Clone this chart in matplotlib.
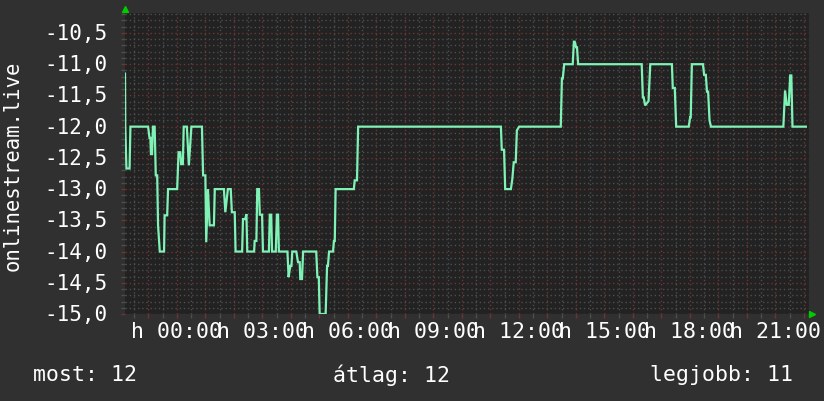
import matplotlib
matplotlib.use("Agg")
import matplotlib.pyplot as plt
from matplotlib.ticker import MultipleLocator, FixedLocator
from matplotlib.transforms import ScaledTranslation

# Data (hours relative to midnight, value)
hours = [
    -1.82, -1.81, -1.77, -1.66, -1.63, -1.01, -0.96, -0.93, -0.91, -0.87,
    -0.84, -0.78, -0.74, -0.69, -0.66, -0.60, -0.45, -0.43, -0.34, -0.31,
    0.01, 0.06, 0.12, 0.15, 0.21, 0.24, 0.35, 0.42, 0.51, 0.88,
    0.92, 1.00, 1.03, 1.09, 1.15, 1.30, 1.33, 1.65, 1.70, 1.79,
    1.89, 1.93, 2.03, 2.06, 2.29, 2.32, 2.40, 2.44, 2.47, 2.71,
    2.73, 2.79, 2.82, 2.88, 2.91, 2.99, 3.02, 3.23, 3.26, 3.31,
    3.34, 3.47, 3.51, 3.55, 3.58, 3.88, 3.92, 3.98, 4.02, 4.05,
    4.19, 4.25, 4.31, 4.33, 4.39, 4.43, 4.89, 4.93, 4.98, 5.01,
    5.22, 5.27, 5.30, 5.34, 5.48, 5.51, 5.54, 5.57, 6.21, 6.24,
    6.32, 6.36, 11.37, 11.40, 11.48, 11.52, 11.72, 11.77, 11.82, 11.89,
    11.93, 12.01, 13.47, 13.51, 13.54, 13.59, 13.89, 13.93, 13.96, 14.01,
    14.04, 14.08, 16.31, 16.35, 16.38, 16.43, 16.55, 16.61, 17.37, 17.40,
    17.47, 17.52, 17.96, 18.01, 18.03, 18.07, 18.46, 18.50, 18.56, 18.60,
    18.64, 18.69, 18.74, 21.28, 21.34, 21.40, 21.47, 21.52, 21.56, 21.60,
    22.07,
]
values = [
    -11.15, -12.0, -12.67, -12.67, -12.0, -12.0, -12.18, -12.18, -12.44, -12.44,
    -12.0, -12.0, -12.78, -12.78, -13.58, -14.0, -14.0, -13.42, -13.42, -13.0,
    -13.0, -12.41, -12.41, -12.6, -12.6, -12.0, -12.0, -12.62, -12.0, -12.0,
    -12.78, -12.78, -13.85, -13.0, -13.58, -13.58, -13.0, -13.0, -13.37, -13.0,
    -13.0, -13.37, -13.37, -14.0, -14.0, -13.48, -13.48, -13.4, -14.0, -14.0,
    -13.83, -13.83, -13.0, -13.0, -13.41, -13.41, -14.0, -14.0, -13.41, -13.41,
    -14.0, -14.0, -13.41, -13.41, -14.0, -14.0, -14.41, -14.23, -14.23, -14.0,
    -14.0, -14.17, -14.17, -14.44, -14.44, -14.0, -14.0, -14.41, -14.41, -15.0,
    -15.0, -14.23, -14.23, -14.0, -14.0, -13.83, -13.83, -13.0, -13.0, -12.86,
    -12.86, -12.0, -12.0, -12.37, -12.37, -13.0, -13.0, -12.84, -12.57, -12.57,
    -12.06, -12.0, -12.0, -11.23, -11.23, -11.0, -11.0, -10.64, -10.64, -10.73,
    -10.73, -11.0, -11.0, -11.53, -11.53, -11.66, -11.59, -11.0, -11.0, -11.38,
    -11.38, -12.0, -12.0, -11.85, -11.85, -11.0, -11.0, -11.17, -11.17, -11.44,
    -11.44, -11.9, -12.0, -12.0, -11.42, -11.65, -11.65, -11.18, -11.18, -12.0,
    -12.0,
]

x_ticks = [0, 3, 6, 9, 12, 15, 18, 21]
x_labels = ["h 00:00", "h 03:00", "h 06:00", "h 09:00",
            "h 12:00", "h 15:00", "h 18:00", "h 21:00"]
y_ticks = [-15.0, -14.5, -14.0, -13.5, -13.0, -12.5, -12.0, -11.5, -11.0, -10.5]
y_labels = ["-15,0", "-14,5", "-14,0", "-13,5", "-13,0",
            "-12,5", "-12,0", "-11,5", "-11,0", "-10,5"]
y_title = "onlinestream.live"
footer = [("most: 12", 33), ("átlag: 12", 333), ("legjobb: 11", 650)]

# Style
bg = "#303030"
plot_bg = "#222222"
line_color = "#7ff2b6"
major_grid = "#6e3535"
minor_grid = "#4e4e4e"
mono = "DejaVu Sans Mono"

fig = plt.figure(figsize=(8.24, 4.02), dpi=100, facecolor=bg)
ax = fig.add_axes([125 / 824, 87 / 402, 684 / 824, 301 / 402])
ax.set_facecolor(plot_bg)

ax.set_xlim(-1.82, 22.18)
ax.set_ylim(-15.0, -10.18)

# grid
ax.xaxis.set_major_locator(FixedLocator(list(range(-1, 23))))
ax.xaxis.set_minor_locator(MultipleLocator(0.5))
ax.yaxis.set_major_locator(FixedLocator(y_ticks))
ax.yaxis.set_minor_locator(MultipleLocator(0.1))
ax.grid(which="minor", color=minor_grid, linestyle=(0, (1, 2)), linewidth=1)
ax.grid(which="major", color=major_grid, linestyle=(0, (1, 2)), linewidth=1)
ax.set_axisbelow(True)

for s in ax.spines.values():
    s.set_visible(False)

ax.tick_params(which="major", color=major_grid, length=3, width=1)
ax.tick_params(which="minor", color=minor_grid, length=3, width=1)
ax.set_xticklabels([])
ax.set_yticklabels([])

ax.plot(hours, values, color=line_color, linewidth=1.6, solid_joinstyle="miter")

# tick labels
xlab_shift = ax.transData + ScaledTranslation(0, -17 / 100, fig.dpi_scale_trans)
for t, lab in zip(x_ticks, x_labels):
    ax.text(t, -15.0, lab, transform=xlab_shift, ha="center", va="center",
            color="white", fontsize=15.5, family=mono, clip_on=False)

ylab_shift = ax.get_yaxis_transform() + ScaledTranslation(-17 / 100, 0, fig.dpi_scale_trans)
for t, lab in zip(y_ticks, y_labels):
    ax.text(0, t, lab, transform=ylab_shift, ha="right", va="center",
            color="white", fontsize=15, family=mono, clip_on=False)

fig.text(13 / 824, 1 - 166 / 402, y_title, rotation=90, ha="center", va="center",
         color="white", fontsize=14.8, family=mono)

for txt, xpos in footer:
    fig.text(xpos / 824, 1 - 375 / 402, txt, ha="left", va="center",
             color="white", fontsize=15.5, family=mono)

# green arrows
ax.plot([0], [1 + 4 / 301], marker="^", color="#00cc00", markersize=5,
        transform=ax.transAxes, clip_on=False, linestyle="none")
ax.plot([1 + 3 / 684], [0], marker=">", color="#00cc00", markersize=5,
        transform=ax.transAxes, clip_on=False, linestyle="none")

fig.savefig("out.png", dpi=100, facecolor=bg)
